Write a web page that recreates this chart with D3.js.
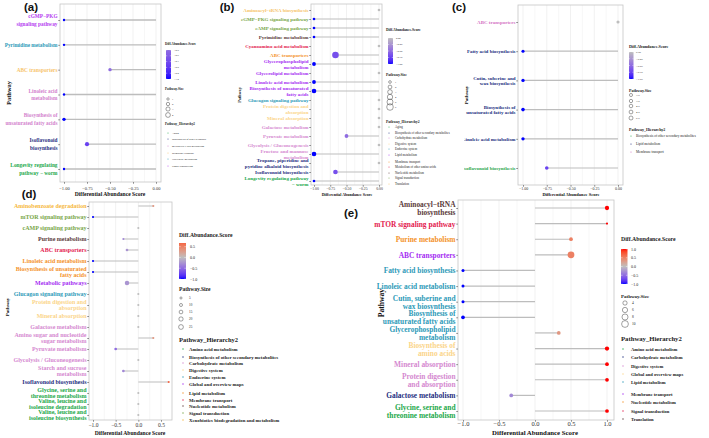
<!DOCTYPE html>
<html>
<head>
<meta charset="utf-8">
<script src="https://cdn.jsdelivr.net/npm/d3@7"></script>
<style>body{margin:0;background:#fff}</style>
</head>
<body>
<script>
// ---------- data ----------
const aPathways = ["cGMP−PKG\nsignaling pathway", "Pyrimidine metabolism", "ABC transporters", "Linoleic acid\nmetabolism", "Biosynthesis of\nunsaturated fatty acids", "Isoflavonoid\nbiosynthesis", "Longevity regulating\npathway − worm"];
const aScores = [-1, -1, -0.5, -1, -1, -0.75, -1];
const aSizes = [1, 1, 2, 1, 2, 3, 1];
const aGroups = ["Signal transduction", "Nucleotide metabolism", "Membrane transport", "Lipid metabolism", "Lipid metabolism", "Biosynthesis of other secondary metabolites", "Aging"];
const aHierarchy = ["Aging", "Biosynthesis of other secondary metabolites", "Lipid metabolism", "Membrane transport", "Nucleotide metabolism", "Signal transduction"];
const aLegendText = ["Aging", "Biosynthesis of other secondary", "metabolites Lipid metabolism", "Membrane transport", "Nucleotide metabolism", "Signal transduction"];
const aSizeBreaks = [1, 2, 3, 4];
const aColorTicks = [-0.5, -0.6, -0.7, -0.8, -0.9, -1.0];

const bPathways = ["Aminoacyl−tRNA biosynthesis", "cGMP−PKG signaling pathway", "cAMP signaling pathway", "Pyrimidine metabolism", "Cyanoamino acid metabolism", "ABC transporters", "Glycerophospholipid\nmetabolism", "Glycerolipid metabolism", "Linoleic acid metabolism", "Biosynthesis of unsaturated\nfatty acids", "Glucagon signaling pathway", "Protein digestion and\nabsorption", "Mineral absorption", "Galactose metabolism", "Pyruvate metabolism", "Glycolysis / Gluconeogenesis", "Fructose and mannose\nmetabolism", "Tropane, piperidine and\npyridine alkaloid biosynthesis", "Isoflavonoid biosynthesis", "Longevity regulating pathway\n− worm"];
const bScores = [0, -1, -1, -1, 0, -0.67, -1, 0, -1, -1, 0, 0, 0, 0, -0.5, 0, -1, 0, -0.67, -1];
const bSizes = [1, 1, 1, 1, 1, 6, 2, 1, 2, 3, 1, 1, 1, 1, 2, 1, 3, 1, 3, 1];
const bGroups = ["Translation", "Signal transduction", "Signal transduction", "Nucleotide metabolism", "Metabolism of other amino acids", "Membrane transport", "Lipid metabolism", "Lipid metabolism", "Lipid metabolism", "Lipid metabolism", "Endocrine system", "Digestive system", "Digestive system", "Carbohydrate metabolism", "Carbohydrate metabolism", "Carbohydrate metabolism", "Carbohydrate metabolism", "Biosynthesis of other secondary metabolites", "Biosynthesis of other secondary metabolites", "Aging"];
const bHierarchy = ["Aging", "Biosynthesis of other secondary metabolites", "Carbohydrate metabolism", "Digestive system", "Endocrine system", "Lipid metabolism", "Membrane transport", "Metabolism of other amino acids", "Nucleotide metabolism", "Signal transduction", "Translation"];
const bSizeBreaks = [1, 2, 3, 4, 5, 6];
const bColorTicks = [0, -0.25, -0.5, -0.75, -1];

const cPathways = ["ABC transporters", "Fatty acid biosynthesis", "Cutin, suberine and\nwax biosynthesis", "Biosynthesis of\nunsaturated fatty acids", "Linoleic acid metabolism", "Isoflavonoid biosynthesis"];
const cScores = [0, -1, -1, -1, -1, -0.75];
const cSizes = [3, 3, 3.5, 4, 3.5, 4];
const cGroups = ["Membrane transport", "Lipid metabolism", "Lipid metabolism", "Lipid metabolism", "Lipid metabolism", "Biosynthesis of other secondary metabolites"];
const cHierarchy = ["Biosynthesis of other secondary metabolites", "Lipid metabolism", "Membrane transport"];
const cSizeBreaks = [3, 3.5, 4, 4.5, 5];
const cColorTicks = [0, -0.25, -0.5, -0.75, -1];

const dPathways = ["Aminobenzoate degradation", "mTOR signaling pathway", "cAMP signaling pathway", "Purine metabolism", "ABC transporters", "Linoleic acid metabolism", "Biosynthesis of unsaturated\nfatty acids", "Metabolic pathways", "Glucagon signaling pathway", "Protein digestion and\nabsorption", "Mineral absorption", "Galactose metabolism", "Amino sugar and nucleotide\nsugar metabolism", "Pyruvate metabolism", "Glycolysis / Gluconeogenesis", "Starch and sucrose\nmetabolism", "Isoflavonoid biosynthesis", "Glycine, serine and\nthreonine metabolism", "Valine, leucine and\nisoleucine degradation", "Valine, leucine and\nisoleucine biosynthesis"];
const dScores = [0.33, -1, 0, -0.33, -0.25, -1, -1, -0.25, 0, 0, 0, 0, 0.33, -0.5, 0, -0.33, 0.67, 0, 0, 0];
const dSizes = [5, 5, 5, 5, 8, 5, 5, 22, 5, 5, 5, 5, 5, 8, 5, 8, 5, 5, 5, 5];
const dGroups = ["Xenobiotics biodegradation and metabolism", "Signal transduction", "Signal transduction", "Nucleotide metabolism", "Membrane transport", "Lipid metabolism", "Lipid metabolism", "Global and overview maps", "Endocrine system", "Digestive system", "Digestive system", "Carbohydrate metabolism", "Carbohydrate metabolism", "Carbohydrate metabolism", "Carbohydrate metabolism", "Carbohydrate metabolism", "Biosynthesis of other secondary metabolites", "Amino acid metabolism", "Amino acid metabolism", "Amino acid metabolism"];
const dHierarchy = ["Amino acid metabolism", "Biosynthesis of other secondary metabolites", "Carbohydrate metabolism", "Digestive system", "Endocrine system", "Global and overview maps", "Lipid metabolism", "Membrane transport", "Nucleotide metabolism", "Signal transduction", "Xenobiotics biodegradation and metabolism"];
const dSizeBreaks = [5, 10, 15, 20, 25];
const dColorTicks = [0.5, 0, -0.5, -1];

const ePathways = ["Aminoacyl−tRNA\nbiosynthesis", "mTOR signaling pathway", "Purine metabolism", "ABC transporters", "Fatty acid biosynthesis", "Linoleic acid metabolism", "Cutin, suberine and\nwax biosynthesis", "Biosynthesis of\nunsaturated fatty acids", "Glycerophospholipid\nmetabolism", "Biosynthesis of\namino acids", "Mineral absorption", "Protein digestion\nand absorption", "Galactose metabolism", "Glycine, serine and\nthreonine metabolism"];
const eScores = [1, 1, 0.5, 0.5, -1, -1, -1, -1, 0.33, 1, 1, 1, -0.33, 1];
const eSizes = [4, 1, 3, 10, 2, 2, 2, 3, 3, 4, 3, 3, 3, 3];
const eGroups = ["Translation", "Signal transduction", "Nucleotide metabolism", "Membrane transport", "Lipid metabolism", "Lipid metabolism", "Lipid metabolism", "Lipid metabolism", "Lipid metabolism", "Global and overview maps", "Digestive system", "Digestive system", "Carbohydrate metabolism", "Amino acid metabolism"];
const eHierarchy = ["Amino acid metabolism", "Carbohydrate metabolism", "Digestive system", "Global and overview maps", "Lipid metabolism", "Membrane transport", "Nucleotide metabolism", "Signal transduction", "Translation"];
const eSizeBreaks = [4, 6, 8, 10];
const eColorTicks = [1, 0.5, 0, -0.5, -1];

// ---------- palettes ----------
const GREEN = "#22a84a", NAVY = "#1f2f7f", PINK = "#d589d0", LYELLOW = "#fbd58a", TEAL = "#2d9ab8",
  VIOLET = "#a52df2", ORANGE = "#f4922a", CRIMSON = "#e3214f", BROWN = "#5b3b3b", OLIVE = "#78a648", LORANGE = "#f6c46a";
const aColors = [GREEN, NAVY, "#d27fcd", "#f7c46c", TEAL, "#b43cf0"];
const bColors = [GREEN, NAVY, PINK, LYELLOW, TEAL, VIOLET, ORANGE, CRIMSON, BROWN, OLIVE, LORANGE];
const cColors = ["#2fa84f", "#23307f", "#d473c4"];
const dColors = [GREEN, NAVY, PINK, LYELLOW, TEAL, VIOLET, ORANGE, CRIMSON, BROWN, OLIVE, "#f6b840"];
const eColors = [GREEN, NAVY, PINK, LYELLOW, TEAL, VIOLET, ORANGE, CRIMSON, BROWN];

const SERIF = "'Liberation Serif','Times New Roman',serif";
const SANS = "'Liberation Sans',Arial,sans-serif";

const svg = d3.select("body").append("svg")
  .attr("width", 709).attr("height", 438)
  .style("font-family", SERIF);
const defs = svg.append("defs");

const scoreColor = d3.scaleLinear().domain([-1, 0, 1])
  .range(["#0000ff", "#bebebe", "#ff0000"]).interpolate(d3.interpolateLab);

function multiline(sel, str, lh) {
  const lines = str.split("\n");
  const x = sel.attr("x");
  lines.forEach((t, i) => sel.append("tspan").attr("x", x)
    .attr("dy", i === 0 ? -(lines.length - 1) / 2 * lh : lh).text(t));
}

function drawPanel(d, L) {
  const g = svg.append("g");
  if (L.clip) {
    defs.append("clipPath").attr("id", "clip" + L.key).append("rect")
      .attr("x", L.clip[0]).attr("y", L.clip[1]).attr("width", L.clip[2]).attr("height", L.clip[3]);
    g.attr("clip-path", `url(#clip${L.key})`);
  }
  const x = d3.scaleLinear().domain(L.xd).range(L.xr);
  const y = d3.scalePoint().domain(d.pathways).range(L.yr);
  const r = d3.scaleSqrt().domain([0, d3.max(d.sizeBreaks)]).range([0, L.rmax]);
  const hue = d3.scaleOrdinal().domain(d.hierarchy).range(d.colors);
  const [bx0, by0, bx1, by1] = L.box;
  const rows = d.pathways.map((p, i) => ({ p, s: d.scores[i], z: d.sizes[i], h: d.groups[i] }));

  // grid
  const minor = d3.pairs(d.ticks).map(([p, q]) => (p + q) / 2);
  g.append("g").selectAll("line").data(d.ticks.concat(minor)).join("line")
    .attr("x1", x).attr("x2", x).attr("y1", by0).attr("y2", by1)
    .attr("stroke", "#ebebeb").attr("stroke-width", (v, i) => i < d.ticks.length ? 0.7 : 0.4);

  // lollipops
  g.append("g").selectAll("line").data(rows).join("line")
    .attr("x1", x(0)).attr("x2", v => x(v.s))
    .attr("y1", v => y(v.p)).attr("y2", v => y(v.p))
    .attr("stroke", "#bdbdbd").attr("stroke-width", L.lw);
  g.append("g").selectAll("circle").data(rows).join("circle")
    .attr("cx", v => x(v.s)).attr("cy", v => y(v.p))
    .attr("r", v => r(v.z)).attr("fill", v => scoreColor(v.s));

  g.append("rect").attr("x", bx0).attr("y", by0)
    .attr("width", bx1 - bx0).attr("height", by1 - by0)
    .attr("fill", "none").attr("stroke", "#c6c6c6").attr("stroke-width", 0.8);

  // x axis
  const xa = g.append("g").attr("transform", `translate(0,${by1})`)
    .call(d3.axisBottom(x).tickValues(d.ticks).tickFormat(d3.format(L.fmt)).tickSize(1.8));
  xa.select(".domain").remove();
  xa.selectAll("line").attr("stroke", "#333").attr("stroke-width", 0.5);
  xa.selectAll("text").attr("y", L.tickY - by1).attr("dy", "0.35em")
    .attr("font-family", SERIF).attr("font-size", L.tickFs).attr("fill", "#333");

  // y axis
  const ya = g.append("g").attr("transform", `translate(${bx0},0)`)
    .call(d3.axisLeft(y).tickSize(1.8).tickFormat(""));
  ya.select(".domain").remove();
  ya.selectAll("line").attr("stroke", "#333").attr("stroke-width", 0.5);
  g.append("g").selectAll("text").data(rows).join("text")
    .attr("x", bx0 - 2.5).attr("y", v => y(v.p))
    .attr("text-anchor", "end").attr("dominant-baseline", "central")
    .attr("font-weight", "bold").attr("font-size", L.labFs)
    .attr("fill", v => hue(v.h))
    .each(function(v) { multiline(d3.select(this), v.p, L.labFs * L.lh); });

  g.append("text").attr("x", L.title[0]).attr("y", L.title[1])
    .attr("text-anchor", "middle").attr("dominant-baseline", "central")
    .attr("font-weight", "bold").attr("font-size", L.title[2]).attr("fill", "#111")
    .text("Differential Abundance Score");
  g.append("text").attr("transform", `translate(${L.ytitle[0]},${L.ytitle[1]}) rotate(-90)`)
    .attr("text-anchor", "middle").attr("dominant-baseline", "central")
    .attr("font-weight", "bold").attr("font-size", L.ytitle[2]).attr("fill", "#111")
    .text("Pathway");

  // legends
  const G = L.leg;
  const txt = (x0, y0, s, fs, bold) => g.append("text").attr("x", x0).attr("y", y0)
    .attr("font-size", fs).attr("font-weight", bold ? "bold" : null)
    .attr("dominant-baseline", "central").attr("fill", "#222").text(s);

  txt(G.x, G.titleY, "Diff.Abundance.Score", G.titleFs, true);
  const [cx, cy0, cy1, cw] = G.cb;
  const grad = defs.append("linearGradient").attr("id", "grad" + L.key)
    .attr("x1", 0).attr("y1", 1).attr("x2", 0).attr("y2", 0);
  d3.range(21).forEach(i => grad.append("stop").attr("offset", i / 20)
    .attr("stop-color", scoreColor(d.cbDomain[0] + (d.cbDomain[1] - d.cbDomain[0]) * i / 20)));
  g.append("rect").attr("x", cx).attr("y", cy0).attr("width", cw).attr("height", cy1 - cy0)
    .attr("fill", `url(#grad${L.key})`);
  const cbY = d3.scaleLinear().domain(d.cbDomain).range([cy1, cy0]);
  d.colorTicks.forEach(v => {
    g.append("line").attr("x1", cx).attr("x2", cx + cw * 0.25).attr("y1", cbY(v)).attr("y2", cbY(v))
      .attr("stroke", "#fff").attr("stroke-width", 0.4);
    g.append("line").attr("x1", cx + cw * 0.75).attr("x2", cx + cw).attr("y1", cbY(v)).attr("y2", cbY(v))
      .attr("stroke", "#fff").attr("stroke-width", 0.4);
    txt(G.cbLabX, cbY(v), d3.format(G.cbFmt)(v), G.cbFs);
  });

  txt(G.x, G.sizeTitleY, "Pathway.Size", G.sizeTitleFs, true);
  d.sizeBreaks.forEach((b, i) => {
    g.append("circle").attr("cx", G.sizeCx).attr("cy", G.sizeYs[i]).attr("r", r(b))
      .attr("fill", "none").attr("stroke", "#444").attr("stroke-width", 0.5);
    txt(G.sizeLabX, G.sizeYs[i], G.sizeFmt ? d3.format(G.sizeFmt)(b) : b, G.sizeFs);
  });

  txt(G.x, G.hierTitleY, "Pathway_Hierarchy2", G.hierTitleFs, true);
  d.hierarchy.forEach((h, i) => {
    g.append("circle").attr("cx", G.hierDotX).attr("cy", G.hierYs[i]).attr("r", G.dotR)
      .attr("fill", hue(h));
    txt(G.hierLabX, G.hierYs[i], d.legendText ? d.legendText[i] : h, G.hierFs, G.hierBold);
  });

  svg.append("text").attr("x", L.tag[0]).attr("y", L.tag[1])
    .attr("text-anchor", "middle").attr("font-family", SANS).attr("font-weight", "bold")
    .attr("font-size", 11.5).attr("fill", "#111").text(L.tag[2]);
}

const qTicks = [-1, -0.75, -0.5, -0.25, 0];

drawPanel(
  { pathways: aPathways, scores: aScores, sizes: aSizes, groups: aGroups, hierarchy: aHierarchy,
    colors: aColors, legendText: aLegendText, sizeBreaks: aSizeBreaks, colorTicks: aColorTicks,
    cbDomain: [-1, -0.5], ticks: qTicks },
  { key: "a", box: [60, 4, 161, 182], xd: [-1, 0], xr: [64, 156], yr: [20, 169], rmax: 2.4, lw: 1.3,
    fmt: ".2f", tickFs: 4.5, tickY: 188, labFs: 5.3, lh: 1.45, title: [110, 194, 5.6], ytitle: [8, 93, 6.5],
    tag: [31, 11, "(a)"],
    leg: { x: 165, titleY: 44, titleFs: 3.3, cb: [166, 50, 79, 5], cbLabX: 174, cbFs: 2.6, cbFmt: ".1f",
      sizeTitleY: 89, sizeTitleFs: 3.3, sizeYs: [99, 104, 109, 115], sizeCx: 168, sizeLabX: 172, sizeFs: 2.6,
      hierTitleY: 124, hierTitleFs: 3.3, hierYs: [133, 139, 146, 153, 159, 166], hierDotX: 168, hierLabX: 172,
      hierFs: 2.7, dotR: 0.5 } });

drawPanel(
  { pathways: bPathways, scores: bScores, sizes: bSizes, groups: bGroups, hierarchy: bHierarchy,
    colors: bColors, sizeBreaks: bSizeBreaks, colorTicks: bColorTicks, cbDomain: [-1, 0], ticks: qTicks },
  { key: "b", clip: [236, 0, 228, 200], box: [311, 4, 382, 185], xd: [-1, 0], xr: [314, 379], yr: [10, 181],
    rmax: 3.3, lw: 1.2, fmt: ".2f", tickFs: 3.8, tickY: 189, labFs: 5, lh: 1.05, title: [347, 194, 4],
    ytitle: [239, 95, 4.2], tag: [227, 11, "(b)"],
    leg: { x: 386, titleY: 30, titleFs: 3.7, cb: [388, 38, 64, 5], cbLabX: 396, cbFs: 2.7, cbFmt: ".2f",
      sizeTitleY: 75, sizeTitleFs: 3.7, sizeYs: [82, 87, 92, 97, 102, 107], sizeCx: 390, sizeLabX: 395, sizeFs: 2.6,
      hierTitleY: 122, hierTitleFs: 3.7, hierYs: [127, 133, 138, 144, 149, 155, 162, 167, 173, 178, 184],
      hierDotX: 389, hierLabX: 395, hierFs: 3.1, dotR: 0.5 } });

drawPanel(
  { pathways: cPathways, scores: cScores, sizes: cSizes, groups: cGroups, hierarchy: cHierarchy,
    colors: cColors, sizeBreaks: cSizeBreaks, colorTicks: cColorTicks, cbDomain: [-1, 0], ticks: qTicks },
  { key: "c", clip: [464, 0, 245, 200], box: [518, 5, 623, 185], xd: [-1, 0], xr: [523, 618], yr: [22, 168],
    rmax: 2.0, lw: 1.2, fmt: ".2f", tickFs: 4, tickY: 189, labFs: 5, lh: 1.1, title: [571, 194, 4.5],
    ytitle: [466, 95, 5], tag: [459, 11, "(c)"],
    leg: { x: 629, titleY: 46, titleFs: 4.2, cb: [629, 52, 79, 4.5], cbLabX: 636, cbFs: 2.9, cbFmt: ".2f",
      sizeTitleY: 90, sizeTitleFs: 4, sizeYs: [95, 101, 106, 112, 118], sizeCx: 631, sizeLabX: 636, sizeFs: 2.9,
      sizeFmt: ".1f", hierTitleY: 129, hierTitleFs: 4, hierYs: [136, 144, 152], hierDotX: 631, hierLabX: 636,
      hierFs: 3.4, dotR: 0.6 } });

drawPanel(
  { pathways: dPathways, scores: dScores, sizes: dSizes, groups: dGroups, hierarchy: dHierarchy,
    colors: dColors, sizeBreaks: dSizeBreaks, colorTicks: dColorTicks, cbDomain: [-1, 0.67],
    ticks: [-1, -0.5, 0, 0.5] },
  { key: "d", box: [89, 202, 172, 420], xd: [-1, 0.5], xr: [93, 161], yr: [206, 415], rmax: 2.4, lw: 1.0,
    fmt: ".1f", tickFs: 5.5, tickY: 425, labFs: 6.0, lh: 0.98, title: [130, 433, 5.6], ytitle: [7, 307, 5],
    tag: [29, 198, "(d)"],
    leg: { x: 179, titleY: 235, titleFs: 5.7, cb: [179, 243, 279, 7], cbLabX: 190, cbFs: 4, cbFmt: ".1f",
      sizeTitleY: 289, sizeTitleFs: 5.6, sizeYs: [298, 305, 312, 319, 327], sizeCx: 181, sizeLabX: 189, sizeFs: 3.3,
      hierTitleY: 339, hierTitleFs: 6.5, hierYs: [349, 357, 363, 370, 377, 384, 393, 400, 406, 413, 420],
      hierDotX: 183, hierLabX: 189, hierFs: 4.8, hierBold: true, dotR: 0.7 } });

drawPanel(
  { pathways: ePathways, scores: eScores, sizes: eSizes, groups: eGroups, hierarchy: eHierarchy,
    colors: eColors, sizeBreaks: eSizeBreaks, colorTicks: eColorTicks, cbDomain: [-1, 1],
    ticks: [-1, -0.5, 0, 0.5, 1] },
  { key: "e", box: [458, 200, 614, 420], xd: [-1, 1], xr: [463, 607], yr: [208, 411], rmax: 3.4, lw: 1.2,
    fmt: ".1f", tickFs: 6.5, tickY: 424, labFs: 7.4, lh: 1.08, title: [535, 432, 6.8], ytitle: [381, 303, 7.6],
    tag: [351, 217, "(e)"],
    leg: { x: 621, titleY: 239, titleFs: 5.8, cb: [621, 249, 284, 6.5], cbLabX: 631, cbFs: 4, cbFmt: ".1f",
      sizeTitleY: 296, sizeTitleFs: 5, sizeYs: [303, 310, 317, 324], sizeCx: 625, sizeLabX: 632, sizeFs: 3.5,
      hierTitleY: 338, hierTitleFs: 6.7, hierYs: [349, 357, 366, 374, 382, 394, 402, 411, 419],
      hierDotX: 623, hierLabX: 631, hierFs: 4.6, hierBold: true, dotR: 0.7 } });
</script>
</body>
</html>
